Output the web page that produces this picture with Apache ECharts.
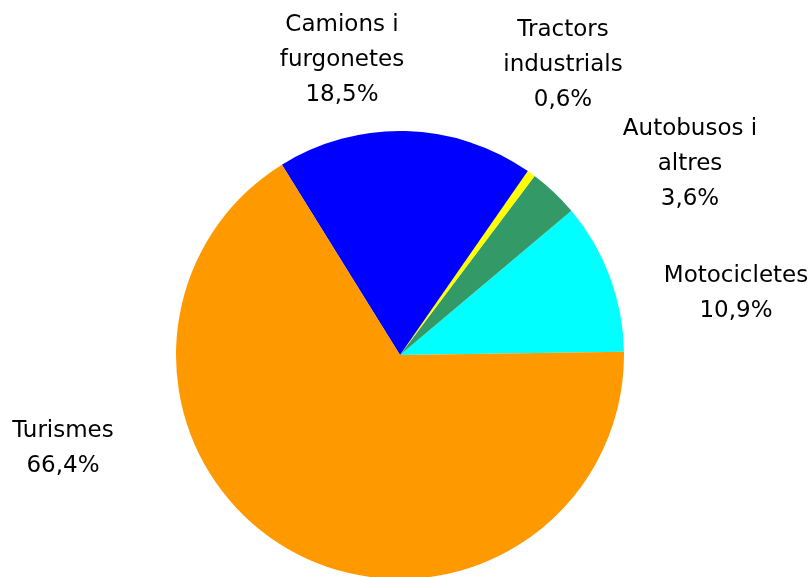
<!DOCTYPE html>
<html>
<head>
<meta charset="utf-8">
<title>Parc de vehicles</title>
<script src="https://cdn.jsdelivr.net/npm/echarts@6/dist/echarts.min.js"></script>
<style>
  html, body { margin: 0; padding: 0; background: #ffffff; }
  #chart { width: 811px; height: 577px; }
</style>
</head>
<body>
<div id="chart"></div>
<script>
// Vehicle categories, counter-clockwise from the right-hand side
const categories = ['Motocicletes', 'Autobusos i\naltres', 'Tractors\nindustrials', 'Camions i\nfurgonetes', 'Turismes'];
const shares = [10.9, 3.6, 0.6, 18.5, 66.4];
const colors = ['#00FFFF', '#339966', '#FFFF00', '#0000FF', '#FF9900'];

// Label centres for each slice
const labelSpots = [
  [736, 294],
  [690, 164],
  [563, 65],
  [342, 60],
  [63, 449]
];

const fmt = v => v.toFixed(1).replace('.', ',') + '%';

const chart = echarts.init(document.getElementById('chart'), null, { renderer: 'canvas' });

chart.setOption({
  animation: false,
  backgroundColor: '#ffffff',
  series: [{
    type: 'pie',
    center: [400, 355],
    radius: 224,
    startAngle: 0.85,
    clockwise: false,
    avoidLabelOverlap: false,
    emphasis: { disabled: true },
    itemStyle: { borderWidth: 0 },
    label: {
      show: true,
      position: 'outside',
      formatter: p => p.name + '\n' + fmt(p.value),
      fontFamily: 'DejaVu Sans',
      fontSize: 23,
      lineHeight: 35,
      color: '#000000',
      align: 'center'
    },
    labelLine: { show: false },
    labelLayout: p => ({
      x: labelSpots[p.dataIndex][0],
      y: labelSpots[p.dataIndex][1],
      align: 'center',
      verticalAlign: 'middle'
    }),
    data: categories.map((c, i) => ({
      name: c,
      value: shares[i],
      itemStyle: { color: colors[i] }
    }))
  }]
});
</script>
</body>
</html>
